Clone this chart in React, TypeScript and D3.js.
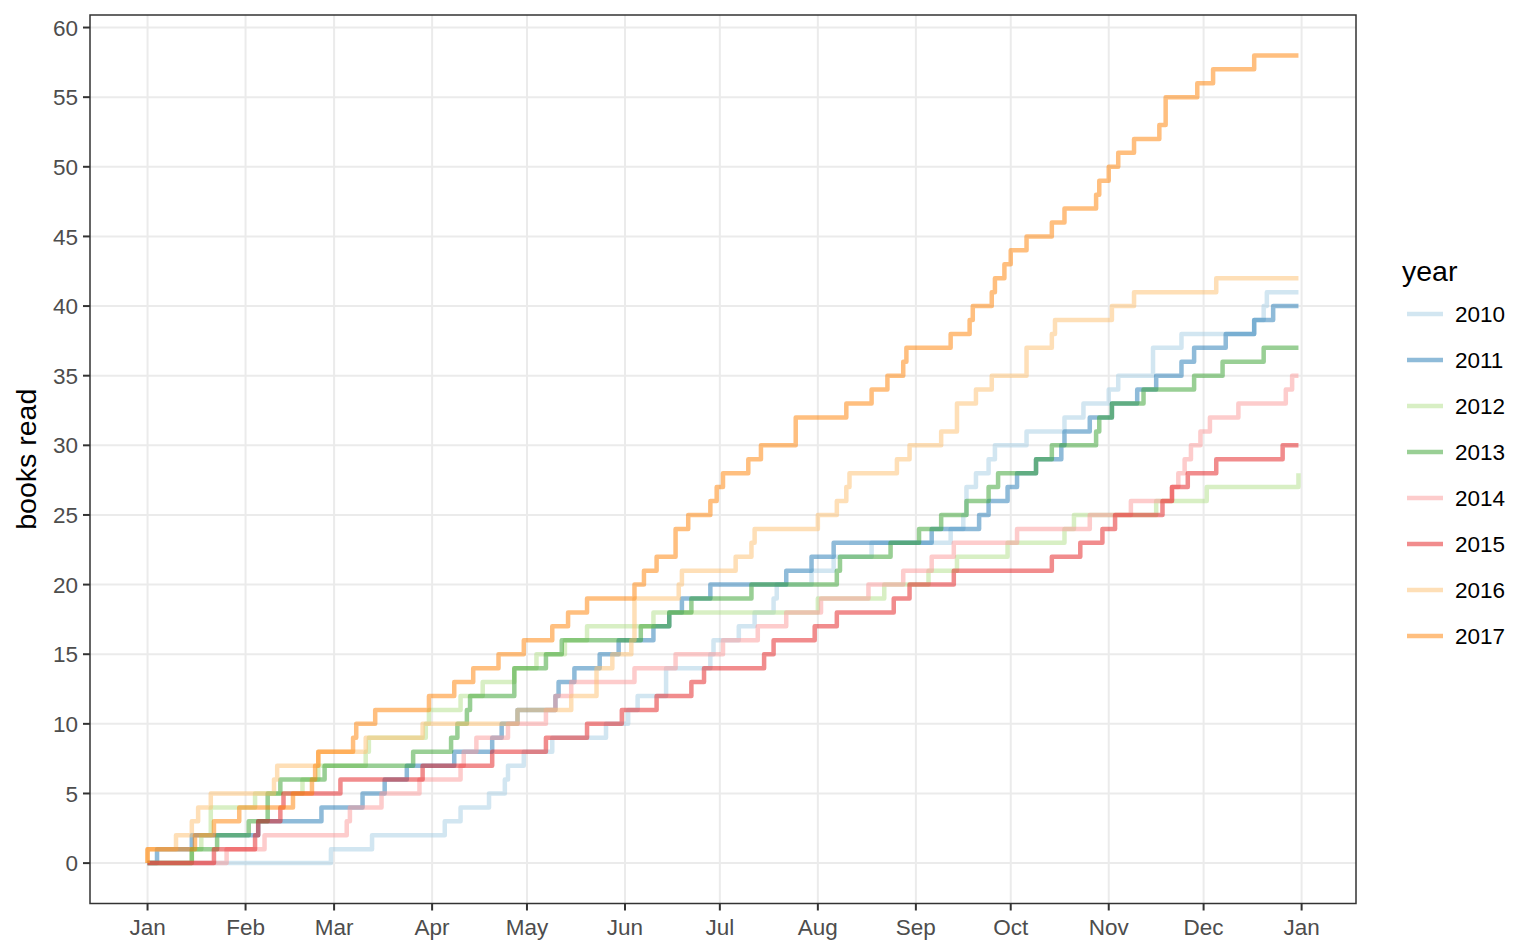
import React from "react";
import * as d3 from "d3";

// ---- data: day-of-year (0 = Jan 1) on which each book was finished ----
const years = ["2010", "2011", "2012", "2013", "2014", "2015", "2016", "2017"];

const books2010 = [58, 71, 94, 99, 108, 113, 114, 119, 128, 145, 152, 155, 164, 164, 178, 179, 187, 192, 198, 199, 210, 217, 229, 254, 258, 259, 259, 262, 266, 268, 278, 290, 296, 304, 307, 318, 318, 327, 350, 353, 354];
const books2011 = [3, 14, 35, 55, 68, 75, 82, 97, 109, 112, 117, 129, 130, 135, 143, 149, 160, 165, 169, 178, 202, 210, 217, 248, 263, 266, 272, 275, 281, 289, 290, 298, 305, 313, 319, 327, 331, 341, 350, 356];
const books2012 = [14, 17, 20, 20, 34, 49, 54, 69, 70, 88, 89, 99, 106, 116, 123, 132, 139, 160, 212, 233, 247, 256, 272, 290, 293, 319, 335, 364];
const books2013 = [14, 22, 32, 38, 38, 42, 56, 84, 96, 98, 101, 102, 116, 116, 126, 131, 156, 165, 172, 191, 218, 219, 235, 244, 251, 259, 266, 269, 281, 286, 300, 301, 305, 315, 331, 340, 353];
const books2014 = [25, 37, 63, 64, 74, 86, 99, 100, 104, 114, 126, 129, 134, 154, 167, 182, 193, 202, 213, 228, 239, 248, 255, 275, 298, 311, 324, 326, 328, 330, 333, 336, 345, 360, 362];
const books2015 = [21, 34, 35, 42, 43, 61, 87, 109, 126, 139, 150, 161, 172, 176, 195, 198, 211, 218, 236, 241, 255, 286, 295, 302, 306, 321, 324, 329, 338, 359];
const books2016 = [0, 9, 14, 16, 20, 40, 41, 54, 69, 87, 117, 134, 142, 142, 147, 153, 154, 154, 154, 168, 169, 186, 191, 192, 212, 218, 221, 222, 237, 241, 251, 256, 256, 262, 267, 278, 278, 286, 287, 305, 312, 338];
const books2017 = [0, 15, 21, 29, 46, 52, 53, 54, 65, 66, 72, 89, 97, 103, 111, 119, 128, 133, 139, 154, 157, 161, 167, 167, 171, 178, 180, 182, 190, 194, 205, 205, 221, 229, 234, 239, 240, 254, 260, 261, 267, 268, 271, 273, 278, 286, 290, 300, 301, 304, 307, 312, 320, 322, 322, 332, 337, 350];

const seriesDays = [books2010, books2011, books2012, books2013, books2014, books2015, books2016, books2017];
const palette = ["#a6cee3", "#1f78b4", "#b2df8a", "#33a02c", "#fb9a99", "#e31a1c", "#fdbf6f", "#ff7f00"];
const yTickValues = [0, 5, 10, 15, 20, 25, 30, 35, 40, 45, 50, 55, 60];
const LAST_DAY = 364;

const W = 1536;
const H = 949;
const FONT = "'Liberation Sans', Arial, Helvetica, sans-serif";

export default function App() {
  const base = Date.UTC(2017, 0, 1);
  const DAY = 864e5;
  const toDate = (d: number) => new Date(base + d * DAY);

  const left = 90, right = 1356, top = 15, bottom = 903.5;

  const x = d3.scaleUtc().domain([toDate(-18.2), toDate(382.2)]).range([left, right]);
  const y = d3.scaleLinear().domain([-2.9, 60.9]).range([bottom, top]);

  const line = d3
    .line<[number, number]>()
    .x((p) => x(toDate(p[0])))
    .y((p) => y(p[1]))
    .curve(d3.curveStepAfter);

  const xTicks = d3.utcMonth.range(toDate(0), toDate(366));
  const fmt = d3.utcFormat("%b");

  const seriesPoints = seriesDays.map((days) => {
    const pts: [number, number][] = [[0, 0]];
    days.forEach((d, i) => pts.push([d, i + 1]));
    pts.push([LAST_DAY, days.length]);
    return pts;
  });

  const gridColor = "#EBEBEB";
  const axisColor = "#333333";
  const tickText = "#4D4D4D";

  return (
    <svg
      width={W}
      height={H}
      style={{ position: "absolute", left: 0, top: 0, display: "block", background: "#fff" }}
      fontFamily={FONT}
    >
      <rect x={0} y={0} width={W} height={H} fill="#fff" />
      {/* grid */}
      <g>
        {yTickValues.map((v) => (
          <line key={"gy" + v} x1={left} x2={right} y1={y(v)} y2={y(v)} stroke={gridColor} strokeWidth={2} />
        ))}
        {xTicks.map((t) => (
          <line key={"gx" + t.getTime()} x1={x(t)} x2={x(t)} y1={top} y2={bottom} stroke={gridColor} strokeWidth={2} />
        ))}
      </g>
      {/* series */}
      <g>
        {seriesPoints.map((pts, i) => (
          <path
            key={years[i]}
            d={line(pts) || ""}
            fill="none"
            stroke={palette[i]}
            strokeOpacity={0.5}
            strokeWidth={4.5}
            strokeLinejoin="round"
            strokeLinecap="butt"
          />
        ))}
      </g>
      {/* panel border */}
      <rect x={left} y={top} width={right - left} height={bottom - top} fill="none" stroke={axisColor} strokeWidth={1.5} />
      {/* y axis */}
      <g>
        {yTickValues.map((v) => (
          <g key={"yt" + v}>
            <line x1={left - 7} x2={left} y1={y(v)} y2={y(v)} stroke={axisColor} strokeWidth={2} />
            <text x={left - 12} y={y(v)} dy="0.36em" textAnchor="end" fontSize={22.5} fill={tickText}>
              {v}
            </text>
          </g>
        ))}
      </g>
      {/* x axis */}
      <g>
        {xTicks.map((t) => (
          <g key={"xt" + t.getTime()}>
            <line x1={x(t)} x2={x(t)} y1={bottom} y2={bottom + 7} stroke={axisColor} strokeWidth={2} />
            <text x={x(t)} y={935} textAnchor="middle" fontSize={22.5} fill={tickText}>
              {fmt(t)}
            </text>
          </g>
        ))}
      </g>
      {/* y title */}
      <text
        transform={`translate(36, ${(top + bottom) / 2}) rotate(-90)`}
        textAnchor="middle"
        fontSize={28.5}
        fill="#000"
      >
        books read
      </text>
      {/* legend */}
      <g>
        <text x={1402} y={281} fontSize={28.5} fill="#000">
          year
        </text>
        {years.map((yr, i) => {
          const cy = 314 + i * 46;
          return (
            <g key={"lg" + yr}>
              <line x1={1407} x2={1443} y1={cy} y2={cy} stroke={palette[i]} strokeOpacity={0.5} strokeWidth={4.5} />
              <text x={1455} y={cy} dy="0.36em" fontSize={22.5} fill="#000">
                {yr}
              </text>
            </g>
          );
        })}
      </g>
    </svg>
  );
}
